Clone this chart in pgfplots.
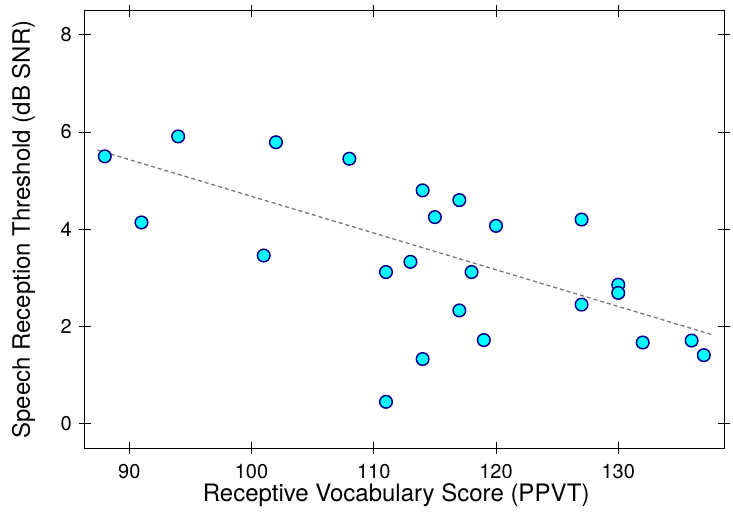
\documentclass[border=0pt]{standalone}
\usepackage{fontspec}
\setmainfont{TeX Gyre Heros}
\usepackage{pgfplots}
\pgfplotsset{compat=1.18}
\definecolor{ptfill}{RGB}{0,255,255}
\definecolor{ptedge}{RGB}{0,0,139}
\definecolor{fitline}{RGB}{120,120,120}

\begin{document}
\begin{tikzpicture}
\useasboundingbox (-85bp,-66bp) rectangle (648bp,448bp);
\begin{axis}[
  at={(0,0)}, anchor=south west,
  scale only axis, width=639bp, height=437bp,
  xmin=86.38, xmax=138.65, ymin=-0.5, ymax=8.49,
  xtick={90,100,...,130}, ytick={0,2,...,8},
  tick align=center, major tick length=12bp,
  every tick/.style={black, line width=1bp},
  axis line style={black, line width=1bp},
  /pgf/number format/assume math mode=true,
  ticklabel style={font=\fontsize{20bp}{24bp}\selectfont},
  xticklabel style={anchor=north, inner sep=0pt, yshift=-10bp},
  yticklabel style={anchor=east, inner sep=0pt, xshift=-7bp},
  label style={font=\fontsize{24bp}{28bp}\selectfont},
  xlabel={Receptive Vocabulary Score (PPVT)},
  ylabel={Speech Reception Threshold (dB SNR)},
  xlabel style={at={(axis description cs:0.487,-0.1235)}, anchor=base, inner sep=0pt},
  ylabel style={at={(axis description cs:-0.0861,0.5)}, anchor=base, inner sep=0pt},
]
% fitted line
\addplot[fitline, dash pattern=on 4bp off 3bp, line width=1.3bp] coordinates {(87.39,5.63) (137.7,1.83)};
% observations
\addplot[only marks, mark=*, mark size=6.3bp,
  mark options={fill=ptfill, draw=ptedge, line width=1.5bp}] table {
x y
88 5.50
91 4.14
94 5.91
101 3.46
102 5.79
108 5.45
111 3.12
111 0.45
113 3.33
114 4.80
114 1.33
115 4.25
117 4.60
117 2.33
118 3.12
119 1.72
120 4.07
127 4.20
127 2.45
130 2.86
130 2.69
132 1.67
136 1.71
137 1.41
};
\end{axis}
\end{tikzpicture}
\end{document}
